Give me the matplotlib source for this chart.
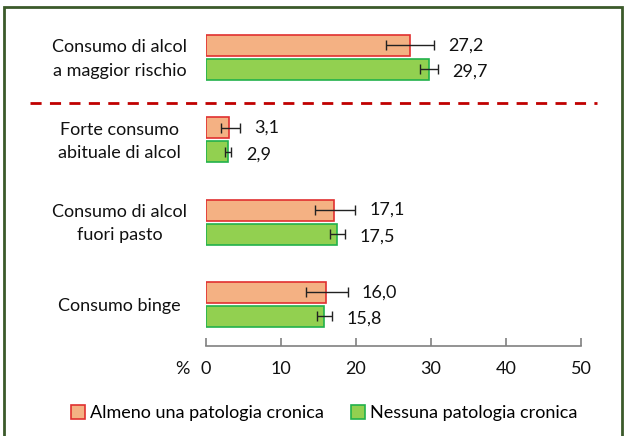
import numpy as np
import matplotlib.pyplot as plt
from matplotlib.patches import Rectangle

plt.rcParams['font.family'] = ['Lato', 'DejaVu Sans']

# Dati
categorie = ['Consumo di alcol\na maggior rischio', 'Forte consumo\nabituale di alcol',
             'Consumo di alcol\nfuori pasto', 'Consumo binge']
almeno_una = [27.2, 3.1, 17.1, 16.0]
almeno_lo = [24.0, 2.0, 14.6, 13.4]
almeno_hi = [30.4, 4.6, 19.9, 18.9]
nessuna = [29.7, 2.9, 17.5, 15.8]
nessuna_lo = [28.5, 2.5, 16.6, 14.8]
nessuna_hi = [30.9, 3.4, 18.5, 16.8]
serie = ['Almeno una patologia cronica', 'Nessuna patologia cronica']
xticks = [0, 10, 20, 30, 40, 50]

fs = 13

fig = plt.figure(figsize=(6.24, 4.36), dpi=100)
ax = fig.add_axes([0.330, 0.2064, 0.601, 0.748])

y = np.arange(len(categorie))
h = 0.255
off = 0.146

a = np.array(almeno_una)
n = np.array(nessuna)
err_a = [a - np.array(almeno_lo), np.array(almeno_hi) - a]
err_n = [n - np.array(nessuna_lo), np.array(nessuna_hi) - n]

ax.barh(y - off, a, height=h, color='#F4B183', edgecolor='#E03030', linewidth=1.2,
        xerr=err_a, error_kw=dict(ecolor='#222222', elinewidth=1, capsize=3.5, capthick=1),
        label=serie[0])
ax.barh(y + off, n, height=h, color='#92D050', edgecolor='#22B14C', linewidth=1.2,
        xerr=err_n, error_kw=dict(ecolor='#222222', elinewidth=1, capsize=3.5, capthick=1),
        label=serie[1])

# Etichette valori
for i in range(len(categorie)):
    ax.text(almeno_hi[i] + 1.9, y[i] - off, f'{almeno_una[i]:.1f}'.replace('.', ','),
            va='center', ha='left', fontsize=fs, color='#111111')
    ax.text(nessuna_hi[i] + 2.0, y[i] + off + 0.03, f'{nessuna[i]:.1f}'.replace('.', ','),
            va='center', ha='left', fontsize=fs, color='#111111')

# Categorie
for i, c in enumerate(categorie):
    ax.text(-11.5, y[i] + 0.02, c, ha='center', va='center', fontsize=fs, color='#111111',
            linespacing=1.55)

# Linea tratteggiata
ax.axhline(0.553, xmin=-0.469, xmax=1.043, color='#C00000', linestyle=(0, (4, 3)),
           linewidth=2, clip_on=False)

ax.set_xlim(0, 50)
ax.set_ylim(3.505, -0.456)
ax.set_xticks(xticks)
ax.set_yticks([])
for s in ['top', 'right', 'left']:
    ax.spines[s].set_visible(False)
ax.spines['bottom'].set_color('#808080')
ax.spines['bottom'].set_linewidth(1.2)
ax.tick_params(axis='x', direction='in', length=6, width=1.2, color='#808080',
               labelsize=fs, labelcolor='#111111', pad=11)
ax.text(-0.062, -0.072, '%', transform=ax.transAxes, ha='center', va='center',
        fontsize=fs, color='#111111')

ax.legend(loc='center', bbox_to_anchor=(0.52, 0.052), bbox_transform=fig.transFigure,
          ncol=2, frameon=False, fontsize=fs, handlelength=0.75, handleheight=0.75,
          handletextpad=0.3, columnspacing=1.5)

# Bordo
fig.patches.append(Rectangle((0.007, -0.02), 0.989, 1.004, transform=fig.transFigure,
                             fill=False, edgecolor='#3B5A2A', linewidth=2))

fig.savefig('out.png', dpi=100)
